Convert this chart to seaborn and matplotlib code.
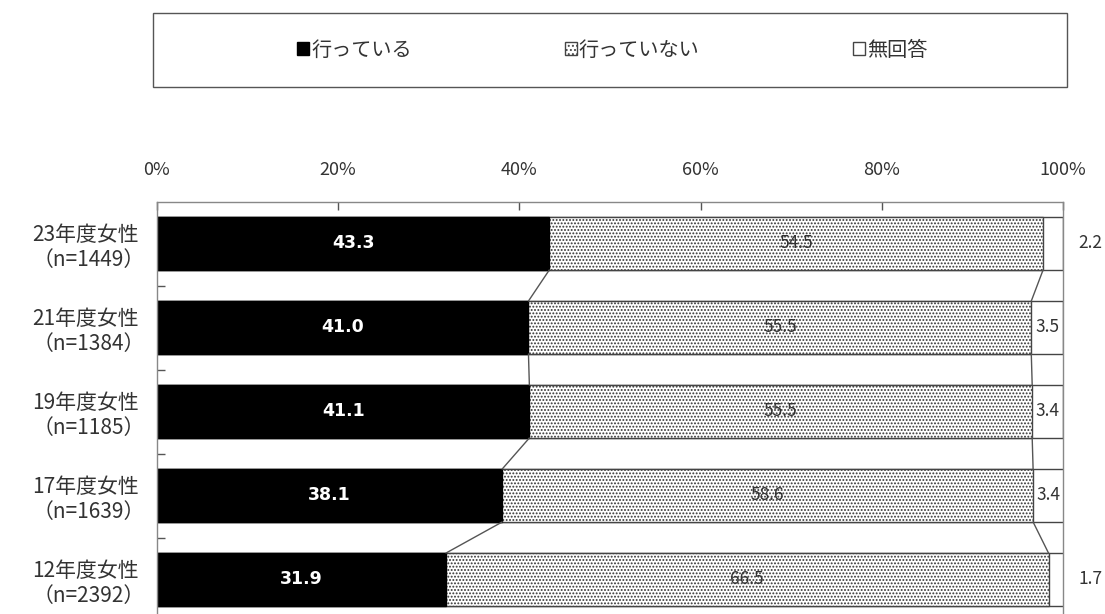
import matplotlib
matplotlib.use("Agg")
import matplotlib.pyplot as plt
import matplotlib.patches as mpatches
import seaborn as sns
import pandas as pd
import numpy as np

# データ
categories = ["23年度女性\n（n=1449）", "21年度女性\n（n=1384）", "19年度女性\n（n=1185）",
              "17年度女性\n（n=1639）", "12年度女性\n（n=2392）"]
done = [43.3, 41.0, 41.1, 38.1, 31.9]        # 行っている
not_done = [54.5, 55.5, 55.5, 58.6, 66.5]    # 行っていない
no_answer = [2.2, 3.5, 3.4, 3.4, 1.7]        # 無回答
series_names = ["行っている", "行っていない", "無回答"]
x_ticks = [0, 20, 40, 60, 80, 100]

sns.set_theme(style="white")
plt.rcParams['font.family'] = ['Noto Sans CJK JP', 'DejaVu Sans']
plt.rcParams['hatch.linewidth'] = 0.9

df = pd.DataFrame({"cat": categories, "done": done, "not_done": not_done, "no_answer": no_answer})
df["cum1"] = df["done"]
df["cum2"] = df["done"] + df["not_done"]
df["total"] = df["cum2"] + df["no_answer"]

fig = plt.figure(figsize=(11.05, 6.14), dpi=100)
W, H = 1105, 614
ax = fig.add_axes([157 / W, -7.5 / H, 906 / W, 420 / H])

bw = 0.63
edge = "#444444"
# 積み上げ（後ろから描く）
sns.barplot(data=df, y="cat", x="total", orient="y", color="white", edgecolor=edge,
            linewidth=1, width=bw, ax=ax, saturation=1)
sns.barplot(data=df, y="cat", x="cum2", orient="y", color="white", edgecolor="#333333",
            linewidth=0, width=bw, ax=ax, saturation=1, hatch=".....")
sns.barplot(data=df, y="cat", x="cum2", orient="y", color="none", edgecolor=edge,
            linewidth=1, width=bw, ax=ax, saturation=1, fill=False)
sns.barplot(data=df, y="cat", x="cum1", orient="y", color="black", edgecolor="black",
            linewidth=1, width=bw, ax=ax, saturation=1)

# 系列線
for i in range(len(categories) - 1):
    for col in ["cum1", "cum2"]:
        ax.plot([df[col][i], df[col][i + 1]], [i + bw / 2, i + 1 - bw / 2],
                color="#555555", lw=1)

# 値ラベル
for i in range(len(categories)):
    ax.text(df["cum1"][i] / 2, i, f"{done[i]:.1f}", color="white", fontsize=12.5,
            fontweight="bold", ha="center", va="center", family=['DejaVu Sans'])
    ax.text(df["cum1"][i] + not_done[i] / 2, i, f"{not_done[i]:.1f}", color="#333333",
            fontsize=12.5, ha="center", va="center")
    if no_answer[i] >= 3:
        ax.text(df["cum2"][i] + no_answer[i] / 2, i, f"{no_answer[i]:.1f}", color="#333333",
                fontsize=12.5, ha="center", va="center")
    else:
        ax.text(103, i, f"{no_answer[i]:.1f}", color="#333333",
                fontsize=12.5, ha="center", va="center", clip_on=False)

ax.set_xlim(0, 100)
ax.set_ylim(len(categories) - 0.5, -0.5)
ax.set_xlabel("")
ax.set_ylabel("")
ax.xaxis.tick_top()
ax.set_xticks(x_ticks)
ax.set_xticklabels([f"{t}%" for t in x_ticks])
ax.tick_params(axis="x", direction="in", length=6, width=1, color="#555555",
               pad=16, labelsize=13, labelcolor="#333333")
ax.set_yticks(range(len(categories)))
ax.set_yticklabels(categories, fontsize=15, color="#333333", linespacing=1.2)
for lab in ax.get_yticklabels():
    lab.set_multialignment("left")
ax.set_yticks(np.arange(0.5, len(categories) - 1, 1), minor=True)
ax.tick_params(axis="y", which="major", length=0, pad=9)
ax.tick_params(axis="y", which="minor", direction="in", length=6, width=1, color="#555555",
               left=True)
for s in ["top", "left", "right"]:
    ax.spines[s].set_color("#888888")
    ax.spines[s].set_linewidth(1)
ax.spines["bottom"].set_visible(False)

# 凡例
handles = [
    mpatches.Patch(facecolor="black", edgecolor="black"),
    mpatches.Patch(facecolor="white", edgecolor="#444444", hatch="...."),
    mpatches.Patch(facecolor="white", edgecolor="#444444"),
]
fig.legend(handles, series_names, loc="center", bbox_to_anchor=(612 / W, 1 - 50 / H),
           ncol=3, frameon=False, fontsize=14.5, handlelength=0.6, handleheight=0.6,
           handletextpad=0.1, columnspacing=7.6, labelcolor="#333333")
fig.patches.append(mpatches.Rectangle((153 / W, 1 - 87 / H), (1067 - 153) / W, 74 / H,
                                      transform=fig.transFigure, fill=False,
                                      edgecolor="#555555", lw=1))

fig.savefig("out.png", dpi=100)
